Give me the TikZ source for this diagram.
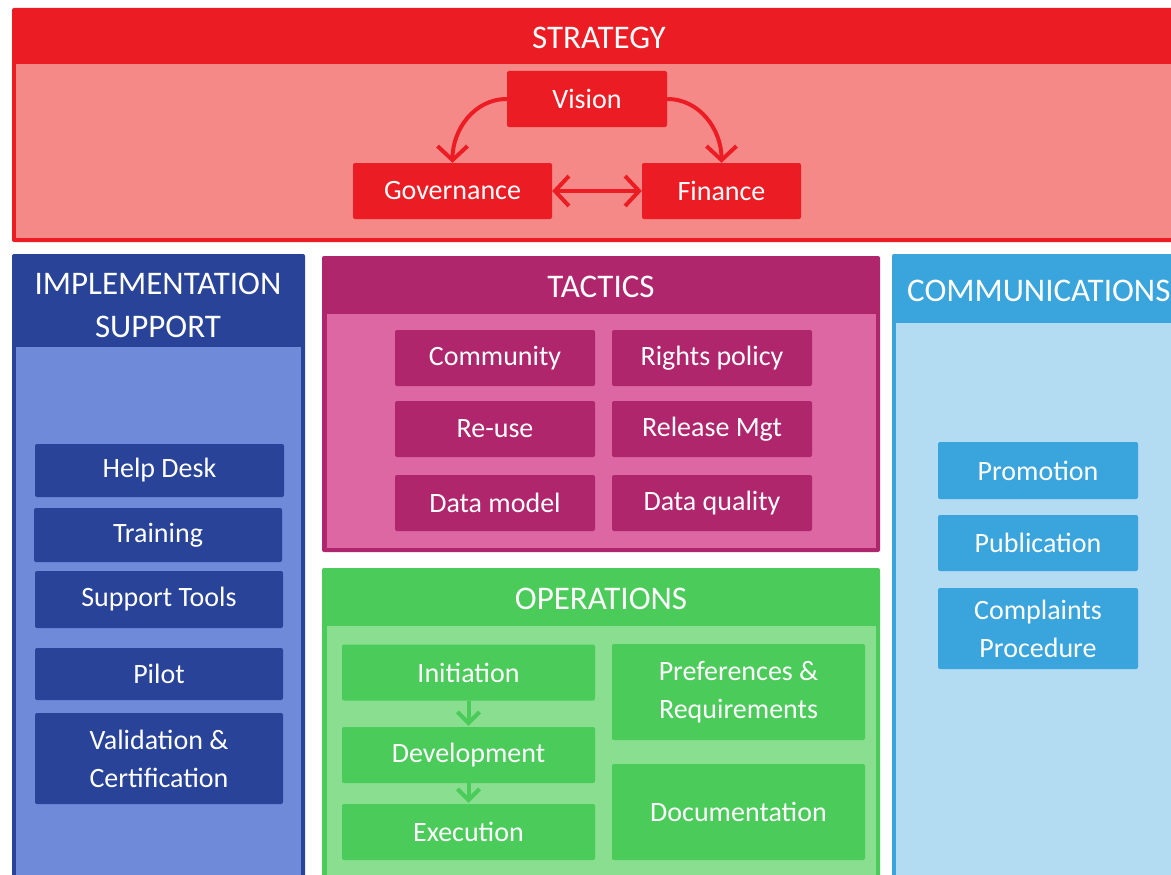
\documentclass[tikz,border=0pt]{standalone}
\usepackage{fontspec}
\setmainfont{Carlito}
\usetikzlibrary{arrows.meta}
\definecolor{sred}{RGB}{236,28,36}
\definecolor{spink}{RGB}{244,137,135}
\definecolor{idark}{RGB}{40,67,151}
\definecolor{ilight}{RGB}{111,138,217}
\definecolor{tdark}{RGB}{176,38,108}
\definecolor{tlight}{RGB}{220,103,163}
\definecolor{odark}{RGB}{75,203,90}
\definecolor{olight}{RGB}{138,222,144}
\definecolor{cdark}{RGB}{58,164,220}
\definecolor{clight}{RGB}{179,220,242}
\tikzset{
  item/.style={rounded corners=2pt, inner sep=0pt, text=white, align=center,
    font=\fontsize{28}{38}\selectfont},
  head/.style={inner sep=0pt, text=white, align=center, font=\fontsize{33}{43}\selectfont},
  redarrow/.style={draw=sred, line width=4pt, {Straight Barb[length=14pt,width=30pt]}-{Straight Barb[length=14pt,width=30pt]}},
  redarrowone/.style={draw=sred, line width=4pt, -{Straight Barb[length=14pt,width=30pt]}},
  greenarrow/.style={draw=odark, line width=4pt, -{Straight Barb[length=11pt,width=22pt]}},
}
\begin{document}
\begin{tikzpicture}[x=1pt,y=-1pt]
\useasboundingbox (0,0) rectangle (1171,875);
\clip (0,0) rectangle (1171,875);
\fill[white] (0,0) rectangle (1171,875);
% STRATEGY
\fill[sred, rounded corners=2pt] (12,8) rectangle (1185,242);
\fill[spink] (16,64) rectangle (1185,238);
\node[head] (strat) at (599,38) {STRATEGY};
\node[item, fill=sred, minimum width=160pt, minimum height=56pt] (vision) at (587,99) {Vision};
\node[item, fill=sred, minimum width=199pt, minimum height=56pt] (gov) at (452.5,191) {Governance};
\node[item, fill=sred, minimum width=159pt, minimum height=56pt] (fin) at (721.5,191) {Finance};
\draw[redarrowone] (vision.west) to[out=180,in=90] (gov.north);
\draw[redarrowone] (vision.east) to[out=0,in=90] (fin.north);
\draw[redarrow] (gov.east) -- (fin.west);
% IMPLEMENTATION SUPPORT
\fill[idark, rounded corners=2pt] (12,254) rectangle (305,890);
\fill[ilight] (16,347) rectangle (301,890);
\node[head] (impl) at (158,305) {IMPLEMENTATION\\SUPPORT};
\node[item, fill=idark, minimum width=249pt, minimum height=53pt] (help) at (159.5,470.5) {Help Desk};
\node[item, fill=idark, minimum width=248pt, minimum height=54pt] (train) at (158,535) {Training};
\node[item, fill=idark, minimum width=248pt, minimum height=57pt] (tools) at (159,599.5) {Support Tools};
\node[item, fill=idark, minimum width=248pt, minimum height=52pt] (pilot) at (159,674) {Pilot};
\node[item, fill=idark, minimum width=248pt, minimum height=91pt] (valid) at (159,758.5) {Validation \&\\Certification};
% TACTICS
\fill[tdark, rounded corners=2pt] (322,256) rectangle (880,552);
\fill[tlight] (327,314) rectangle (876,548);
\node[head] (tact) at (601,287) {TACTICS};
\node[item, fill=tdark, minimum width=200pt, minimum height=56pt] (comm) at (495,358) {Community};
\node[item, fill=tdark, minimum width=200pt, minimum height=56pt] (rights) at (712,358) {Rights policy};
\node[item, fill=tdark, minimum width=200pt, minimum height=56pt] (reuse) at (495,429) {Re-use};
\node[item, fill=tdark, minimum width=200pt, minimum height=56pt] (rel) at (712,429) {Release Mgt};
\node[item, fill=tdark, minimum width=200pt, minimum height=56pt] (dmodel) at (495,503) {Data model};
\node[item, fill=tdark, minimum width=200pt, minimum height=56pt] (dqual) at (712,503) {Data quality};
% OPERATIONS
\fill[odark, rounded corners=2pt] (322,568) rectangle (880,890);
\fill[olight] (327,626) rectangle (876,890);
\node[head] (ops) at (601,599) {OPERATIONS};
\node[item, fill=odark, minimum width=253pt, minimum height=56pt] (init) at (468.5,672.5) {Initiation};
\node[item, fill=odark, minimum width=253pt, minimum height=56pt] (dev) at (468.5,755) {Development};
\node[item, fill=odark, minimum width=253pt, minimum height=56pt] (exec) at (468.5,832) {Execution};
\node[item, fill=odark, minimum width=253pt, minimum height=96pt] (pref) at (738.5,692) {Preferences \&\\Requirements};
\node[item, fill=odark, minimum width=253pt, minimum height=96pt] (doc) at (738.5,812) {Documentation};
\draw[greenarrow] (init.south) -- ([yshift=1pt]dev.north);
\draw[greenarrow] (dev.south) -- ([yshift=1pt]exec.north);
% COMMUNICATIONS
\fill[cdark, rounded corners=2pt] (892,254) rectangle (1185,890);
\fill[clight] (896,323) rectangle (1185,890);
\node[head, anchor=west] (comms) at (907,291) {COMMUNICATIONS};
\node[item, fill=cdark, minimum width=200pt, minimum height=57pt] (promo) at (1038,470.5) {Promotion};
\node[item, fill=cdark, minimum width=200pt, minimum height=56pt] (pub) at (1038,543) {Publication};
\node[item, fill=cdark, minimum width=200pt, minimum height=81pt] (compl) at (1038,628.5) {Complaints\\Procedure};
\end{tikzpicture}
\end{document}
